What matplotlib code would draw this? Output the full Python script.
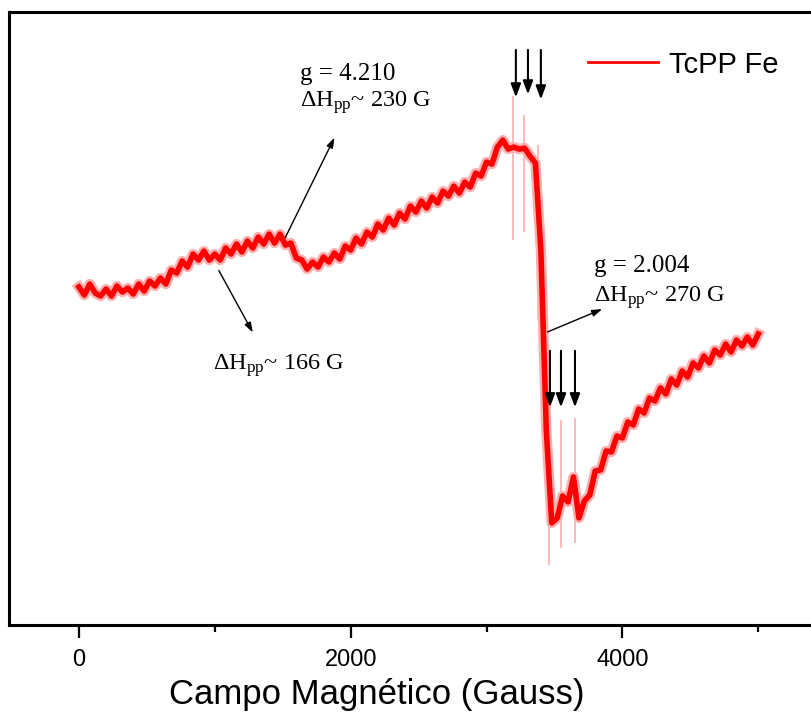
import numpy as np
import matplotlib.pyplot as plt

# EPR spectrum of TcPP Fe (intensity in arbitrary units)
campo = np.arange(0, 5001, 40)
sinal = [3, -5, 6, -3, -6, 1, -6, 4, -2, 2, -4, 6, -1, 9, 4, 12, 6, 20, 17, 29,
         23, 36, 30, 39, 30, 36, 30, 42, 36, 46, 38, 49, 42, 53, 46, 56, 47, 56, 45, 47,
         32, 30, 21, 28, 23, 33, 28, 37, 31, 44, 40, 52, 46, 58, 53, 66, 60, 72, 65, 77,
         71, 84, 78, 89, 82, 93, 87, 99, 94, 104, 97, 108, 103, 117, 114, 128, 126, 143, 150, 141,
         143, 141, 142, 134, 127, 40, -140, -233, -228, -206, -212, -187, -228, -211, -205, -181,
         -180, -161, -162, -146, -148, -132, -135, -119, -123, -108, -111, -98, -104, -89, -95, -81,
         -87, -73, -78, -66, -73, -60, -65, -54, -62, -50, -56, -47, -55, -44]

# narrow lines (thin spikes) of the g = 2.004 signal
pico_campo = [3194, 3275, 3378, 3459, 3548, 3651]
pico_topo = [194, 175, 145, -120, -130, -128]
pico_base = [50, 58, -30, -275, -258, -253]

# arrows pointing at the narrow lines
seta_campo = [3216, 3305, 3400, 3467, 3548, 3651]
seta_ini = [243, 243, 243, -58, -58, -58]
seta_fim = [190, 193, 188, -120, -120, -120]

plt.rcParams['mathtext.fontset'] = 'custom'
plt.rcParams['mathtext.rm'] = 'Liberation Serif'
plt.rcParams['mathtext.it'] = 'Liberation Serif:italic'

fig = plt.figure(figsize=(8.12, 7.15), dpi=100)
ax = fig.add_axes([0.011, 0.126, 1.011, 0.857])

ax.vlines(pico_campo, pico_base, pico_topo, color='#ffb4b4', lw=1.3, zorder=1)
# noise fringe + core of the trace
ax.plot(campo, sinal, color='#ffb0b0', lw=7.5, solid_joinstyle='round', zorder=2)
ax.plot(campo, sinal, color='#ff0000', lw=4, solid_joinstyle='round', label='TcPP Fe', zorder=3)

for xc, y0, y1 in zip(seta_campo, seta_ini, seta_fim):
    ax.annotate('', xy=(xc, y1), xytext=(xc, y0),
                arrowprops=dict(arrowstyle='-|>,head_length=0.8,head_width=0.3', color='black', lw=1.5))

serif = 'Liberation Serif'
ax.text(1630, 210, 'g = 4.210', fontsize=18, family=serif)
ax.text(1630, 183, r'ΔH$_{\rm pp}$~ 230 G', fontsize=17.5, family=serif)
ax.annotate('', xy=(1890, 155), xytext=(1510, 50),
            arrowprops=dict(arrowstyle='-|>,head_length=0.6,head_width=0.2', color='black', lw=1.0))

ax.text(985, -80, r'ΔH$_{\rm pp}$~ 166 G', fontsize=17.5, family=serif)
ax.annotate('', xy=(1290, -45), xytext=(1020, 22),
            arrowprops=dict(arrowstyle='-|>,head_length=0.6,head_width=0.2', color='black', lw=1.0))

ax.text(3790, 18, 'g = 2.004', fontsize=18, family=serif)
ax.text(3790, -12, r'ΔH$_{\rm pp}$~ 270 G', fontsize=17.5, family=serif)
ax.annotate('', xy=(3870, -18), xytext=(3430, -43),
            arrowprops=dict(arrowstyle='-|>,head_length=0.6,head_width=0.2', color='black', lw=1.0))

ax.set_xlim(-515, 5527)
ax.set_ylim(-335, 278)
ax.set_xticks([0, 2000, 4000])
ax.set_xticks([1000, 3000, 5000], minor=True)
ax.set_yticks([])
for s in ax.spines.values():
    s.set_linewidth(2.2)
ax.tick_params(axis='x', which='major', length=9, width=1.6, pad=8, labelsize=17)
ax.tick_params(axis='x', which='minor', length=5, width=1.6)
for lab in ax.get_xticklabels():
    lab.set_family('Liberation Sans')
ax.set_xlabel('Campo Magnético (Gauss)', fontsize=25, family='Liberation Sans')
ax.xaxis.set_label_coords(0.448, -0.087)

leg = ax.legend(loc='upper left', bbox_to_anchor=(0.673, 0.98), frameon=False,
                prop={'family': 'Liberation Sans', 'size': 21}, handlelength=2.4, handletextpad=0.4)
leg.get_lines()[0].set_linewidth(2)

fig.savefig('out.png', dpi=100)
